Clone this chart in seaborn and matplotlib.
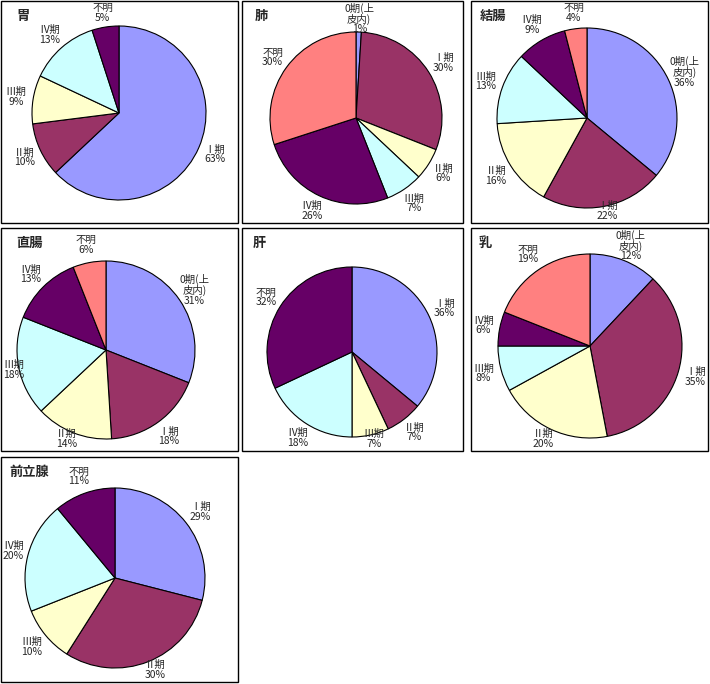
import matplotlib
matplotlib.use("Agg")
import matplotlib.pyplot as plt
from matplotlib.patches import Rectangle
import numpy as np
import seaborn as sns

sns.set_theme(style="white")
plt.rcParams['font.family'] = ['Noto Sans CJK JP', 'DejaVu Sans']

# Excel-style pie palette, assigned by slice order
COLORS = ["#9999FF", "#993366", "#FFFFCC", "#CCFFFF", "#660066", "#FF8080"]

ZERO = "0期(上\n皮内)"

organs = ["胃", "肺", "結腸", "直腸", "肝", "乳", "前立腺"]

stomach_labels = ["Ⅰ期", "Ⅱ期", "Ⅲ期", "Ⅳ期", "不明"]
stomach_vals = [63, 10, 9, 13, 5]

lung_labels = [ZERO, "Ⅰ期", "Ⅱ期", "Ⅲ期", "Ⅳ期", "不明"]
lung_vals = [1, 30, 6, 7, 26, 30]

colon_labels = [ZERO, "Ⅰ期", "Ⅱ期", "Ⅲ期", "Ⅳ期", "不明"]
colon_vals = [36, 22, 16, 13, 9, 4]

rectum_labels = [ZERO, "Ⅰ期", "Ⅱ期", "Ⅲ期", "Ⅳ期", "不明"]
rectum_vals = [31, 18, 14, 18, 13, 6]

liver_labels = ["Ⅰ期", "Ⅱ期", "Ⅲ期", "Ⅳ期", "不明"]
liver_vals = [36, 7, 7, 18, 32]

breast_labels = [ZERO, "Ⅰ期", "Ⅱ期", "Ⅲ期", "Ⅳ期", "不明"]
breast_vals = [12, 35, 20, 8, 6, 19]

prostate_labels = ["Ⅰ期", "Ⅱ期", "Ⅲ期", "Ⅳ期", "不明"]
prostate_vals = [29, 30, 10, 20, 11]

all_labels = [stomach_labels, lung_labels, colon_labels, rectum_labels,
              liver_labels, breast_labels, prostate_labels]
all_vals = [stomach_vals, lung_vals, colon_vals, rectum_vals,
            liver_vals, breast_vals, prostate_vals]

# layout in pixels: box (left, top, right, bottom), pie centre + radius, title x offset
W, H = 710, 684
boxes = [(1, 1, 238, 223), (242, 1, 463, 223), (471, 1, 708, 223),
         (1, 228, 238, 451), (242, 228, 463, 451), (471, 228, 708, 451),
         (1, 457, 238, 682)]
centers = [(119, 113, 87), (356, 118, 86), (587, 118, 90),
           (106, 350, 89), (352, 352, 85), (590, 346, 92),
           (115, 578, 90)]
title_dx = [15, 13, 9, 15, 11, 8, 8]

fig = plt.figure(figsize=(W / 100, H / 100), dpi=100)
fig.patch.set_facecolor("white")

pending = []
for organ, labels, vals, box, (cx, cy, r), tdx in zip(
        organs, all_labels, all_vals, boxes, centers, title_dx):
    x0, y0, x1, y1 = box
    fig.add_artist(Rectangle((x0 / W, 1 - y1 / H), (x1 - x0) / W, (y1 - y0) / H,
                             transform=fig.transFigure, fill=False,
                             ec="black", lw=1))
    fig.text((x0 + tdx) / W, 1 - (y0 + 8) / H, organ, fontsize=9.5,
             fontweight="bold", ha="left", va="top")

    ax = fig.add_axes([(cx - r) / W, 1 - (cy + r) / H, 2 * r / W, 2 * r / H])
    ax.patch.set_visible(False)
    wedges, _ = ax.pie(vals, colors=COLORS[:len(vals)], startangle=90,
                       counterclock=False, radius=1,
                       wedgeprops=dict(edgecolor="black", linewidth=0.8))
    ax.set_xlim(-1, 1)
    ax.set_ylim(-1, 1)
    ax.axis("off")

    for w, lab, v in zip(wedges, labels, vals):
        ang = np.deg2rad((w.theta1 + w.theta2) / 2)
        d = 1.2
        t = ax.text(d * np.cos(ang), d * np.sin(ang), f"{lab}\n{v}%",
                    ha="center", va="center", multialignment="center",
                    fontsize=7.5, linespacing=0.95, clip_on=False)
        pending.append((ax, t, box))

# keep labels inside their chart box, as Excel does
fig.canvas.draw()
renderer = fig.canvas.get_renderer()
m = 2
for ax, t, (x0, y0, x1, y1) in pending:
    bb = t.get_window_extent(renderer)
    left, right = x0 + m, x1 - m
    bottom, top = H - y1 + m, H - y0 - m
    dx = 0
    if bb.x0 < left:
        dx = left - bb.x0
    elif bb.x1 > right:
        dx = right - bb.x1
    dy = 0
    if bb.y0 < bottom:
        dy = bottom - bb.y0
    elif bb.y1 > top:
        dy = top - bb.y1
    if dx or dy:
        px, py = ax.transData.transform(t.get_position())
        t.set_position(ax.transData.inverted().transform((px + dx, py + dy)))

fig.savefig("out.png", dpi=100, facecolor="white")
